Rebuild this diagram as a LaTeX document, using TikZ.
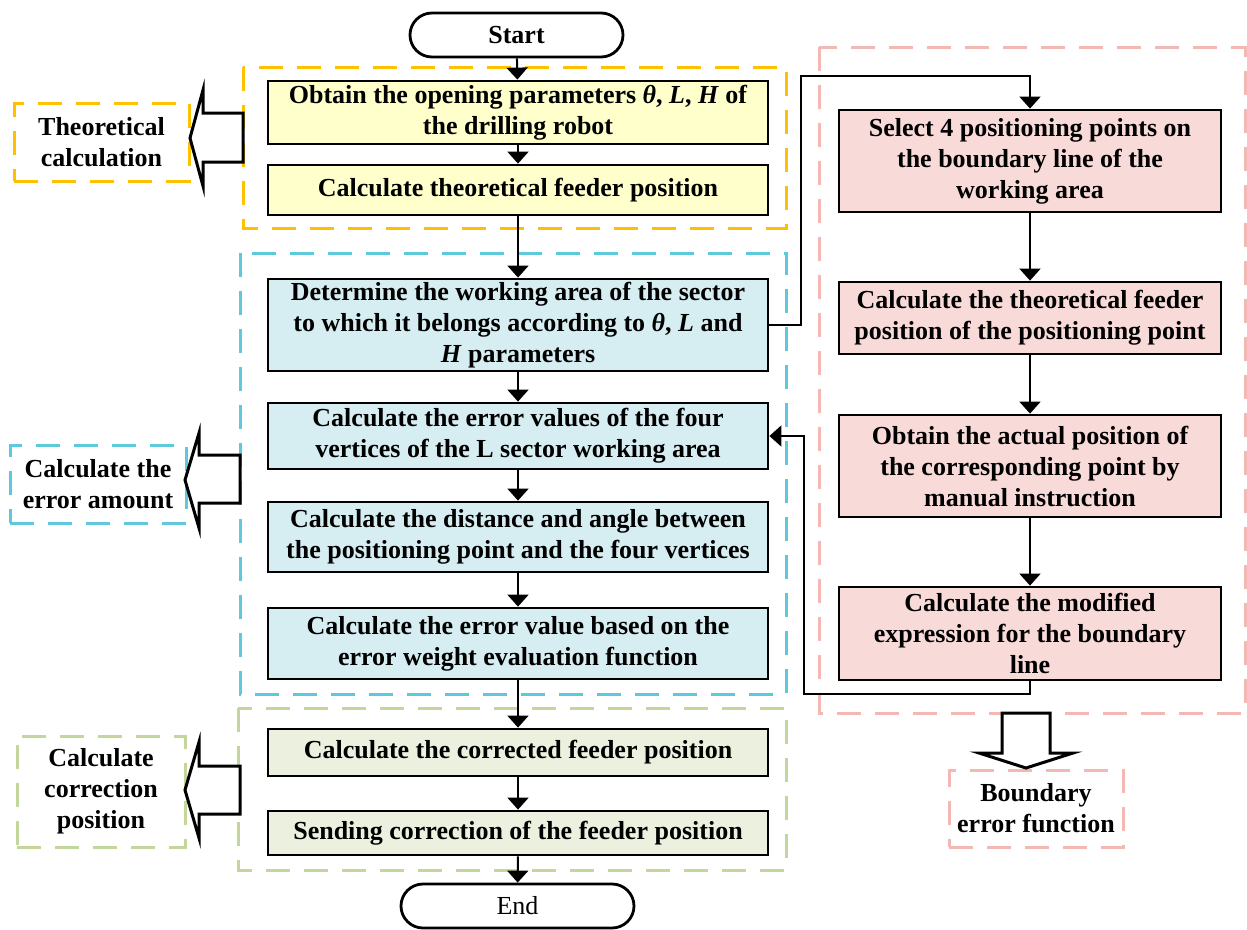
\documentclass[tikz,border=0pt]{standalone}
\usepackage{fontspec}
\setmainfont{Liberation Serif}
\usetikzlibrary{arrows.meta}
\definecolor{yfill}{HTML}{FFFFCC}
\definecolor{bfill}{HTML}{D6EDF2}
\definecolor{pfill}{HTML}{F8DAD8}
\definecolor{gfill}{HTML}{EBF1DE}
\definecolor{ydash}{HTML}{FFC000}
\definecolor{cdash}{HTML}{5EC8DC}
\definecolor{gdash}{HTML}{C3D69B}
\definecolor{pdash}{HTML}{F4B8B4}
\tikzset{
  txt/.style={font=\fontsize{26}{31}\selectfont\bfseries, align=center, inner sep=0pt},
  procbox/.style={txt, draw=black, line width=2.8pt},
  ybox/.style={procbox, fill=yfill},
  bbox/.style={procbox, fill=bfill},
  pbox/.style={procbox, fill=pfill},
  gbox/.style={procbox, fill=gfill},
  termbox/.style={txt, draw=black, line width=2.8pt, fill=white, rounded corners=22pt},
  grp/.style={line width=3pt, dash pattern=on 24pt off 14pt},
  lbl/.style={txt, grp},
  conn/.style={line width=2pt, -{Triangle[width=21pt,length=12pt]}},
  plain/.style={line width=2pt},
  hollow/.style={draw=black, line width=3pt, fill=white, line join=miter},
}
\begin{document}
\begin{tikzpicture}[x=1pt,y=-1pt]
\useasboundingbox (0,0) rectangle (1247,929);
% group frames
\draw[grp, ydash] (243,67) rectangle (786,228);
\draw[grp, cdash] (240,253) rectangle (786,694);
\draw[grp, gdash] (238,708) rectangle (786,870);
\draw[grp, pdash] (819,47) rectangle (1245,713);
% terminals
\node[termbox, minimum width=213pt, minimum height=44pt] (start) at (516.5,35) {Start};
\node[termbox, minimum width=233pt, minimum height=44pt, font=\fontsize{26}{31}\selectfont] (end) at (517.5,906) {End};
% left column
\node[ybox, minimum width=500pt, minimum height=63pt] (y1) at (518,112.5) {Obtain the opening parameters \textit{θ}, \textit{L}, \textit{H} of\\the drilling robot};
\node[ybox, minimum width=500pt, minimum height=50pt] (y2) at (518,190) {Calculate theoretical feeder position};
\node[bbox, minimum width=500pt, minimum height=92pt] (b1) at (518,325) {Determine the working area of the sector\\to which it belongs according to \textit{θ}, \textit{L} and\\\textit{H} parameters};
\node[bbox, minimum width=500pt, minimum height=66pt] (b2) at (518,436) {Calculate the error values of the four\\vertices of the L sector working area};
\node[bbox, minimum width=500pt, minimum height=70pt] (b3) at (518,537) {Calculate the distance and angle between\\the positioning point and the four vertices};
\node[bbox, minimum width=500pt, minimum height=71pt] (b4) at (518,643.5) {Calculate the error value based on the\\error weight evaluation function};
\node[gbox, minimum width=500pt, minimum height=47pt] (g1) at (518,752.5) {Calculate the corrected feeder position};
\node[gbox, minimum width=500pt, minimum height=44pt] (g2) at (518,833) {Sending correction of the feeder position};
% right column
\node[pbox, minimum width=382pt, minimum height=102pt] (p1) at (1030,161) {Select 4 positioning points on\\the boundary line of the\\working area};
\node[pbox, minimum width=382pt, minimum height=72pt] (p2) at (1030,318) {Calculate the theoretical feeder\\position of the positioning point};
\node[pbox, minimum width=382pt, minimum height=102pt] (p3) at (1030,466) {Obtain the actual position of\\the corresponding point by\\manual instruction};
\node[pbox, minimum width=382pt, minimum height=93pt] (p4) at (1030,633.5) {Calculate the modified\\expression for the boundary\\line};
% side labels
\node[lbl, draw=ydash, minimum width=175pt, minimum height=78pt] (ly) at (101.5,142) {Theoretical\\calculation};
\node[lbl, draw=cdash, minimum width=176pt, minimum height=78pt] (lc) at (98,484) {Calculate the\\error amount};
\node[lbl, draw=gdash, minimum width=168pt, minimum height=111pt] (lg) at (101,791.5) {Calculate\\correction\\position};
\node[lbl, draw=pdash, minimum width=174pt, minimum height=77pt] (lp) at (1036,808.5) {Boundary\\error function};
% hollow arrows
\draw[hollow] (243,113) -- (203,113) -- (203,90) -- (190,138) -- (203,186) -- (203,162) -- (243,162) -- cycle;
\draw[hollow] (240,455) -- (199,455) -- (199,433) -- (185,480) -- (199,528) -- (199,503) -- (240,503) -- cycle;
\draw[hollow] (240,766) -- (199,766) -- (199,742) -- (185,790) -- (199,838) -- (199,814) -- (240,814) -- cycle;
\draw[hollow] (1002,713) -- (1002,753) -- (979,753) -- (1026,768) -- (1073,753) -- (1050,753) -- (1050,713) -- cycle;
% connectors
\draw[conn] (start) -- (y1);
\draw[conn] (y1) -- (y2);
\draw[conn] (y2) -- (b1);
\draw[conn] (b1) -- (b2);
\draw[conn] (b2) -- (b3);
\draw[conn] (b3) -- (b4);
\draw[conn] (b4) -- (g1);
\draw[conn] (g1) -- (g2);
\draw[conn] (g2) -- (end);
\draw[conn] (p1) -- (p2);
\draw[conn] (p2) -- (p3);
\draw[conn] (p3) -- (p4);
\coordinate (c1) at (801,76);
\coordinate (c2) at (804,694);
\draw[conn] (b1.east) -| (c1) -| (p1.north);
\draw[conn] (p4.south) |- (c2) |- (b2.east);
\end{tikzpicture}
\end{document}
